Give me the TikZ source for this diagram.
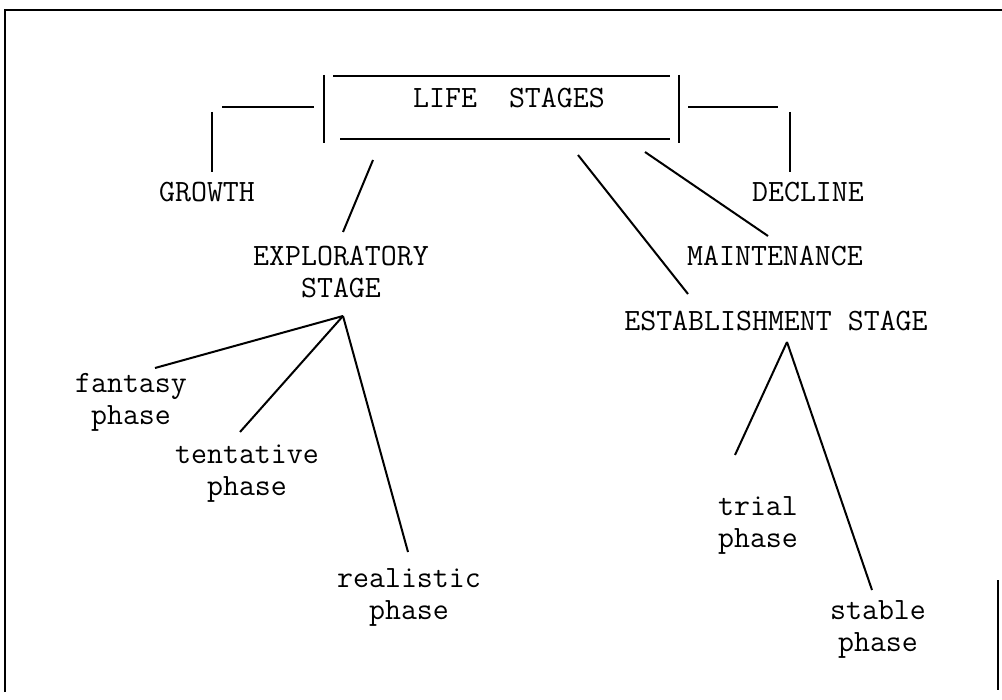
\documentclass[tikz,border=0pt]{standalone}
\usepackage{tikz}

\begin{document}
\begin{tikzpicture}[x=0.5pt, y=-0.5pt, line width=1pt,
    lbl/.style={font=\fontsize{15.5}{16}\selectfont\ttfamily, align=center, inner sep=0pt}]
    \useasboundingbox (0,0) rectangle (1002,700);
    % frame of the sheet
    \draw (5,692) -- (5,10) -- (1002,10);
    \draw (998,580) -- (998,690);

    % title box
    \node[lbl] (life) at (509,98) {LIFE\ \ STAGES};
    \draw (333,76) -- (670,76);
    \draw (340,139) -- (670,139);
    \draw (324,75) -- (324,143);
    \draw (679,75) -- (679,143);

    % stages
    \node[lbl] (growth) at (207,192) {GROWTH};
    \node[lbl] (decline) at (808,192) {DECLINE};
    \node[lbl] (explor) at (341,272) {EXPLORATORY\\STAGE};
    \node[lbl] (maint) at (775,256) {MAINTENANCE};
    \node[lbl] (estab) at (776,321) {ESTABLISHMENT STAGE};

    % phases
    \node[lbl] (fantasy) at (131,402) {fantasy\\phase};
    \node[lbl] (tentative) at (247,474) {tentative\\phase};
    \node[lbl] (realistic) at (409,597) {realistic\\phase};
    \node[lbl] (trial) at (758,525) {trial\\phase};
    \node[lbl] (stable) at (878,629) {stable\\phase};

    \coordinate (explor apex) at (343,316);
    \coordinate (estab apex) at (787,342);

    % bracket arms to growth and decline
    \draw (222,107) -- (314,107);
    \draw (212,112) -- (212,172);
    \draw (688,107) -- (778,107);
    \draw (790,112) -- (790,172);

    % from the title box
    \draw (373,160) -- (343,232);
    \draw (645,152) -- (768,236);
    \draw (578,155) -- (688,294);

    % exploratory phases
    \draw (explor apex) -- (155,368);
    \draw (explor apex) -- (240,432);
    \draw (explor apex) -- (408,552);

    % establishment phases
    \draw (estab apex) -- (735,455);
    \draw (estab apex) -- (872,590);
\end{tikzpicture}
\end{document}
